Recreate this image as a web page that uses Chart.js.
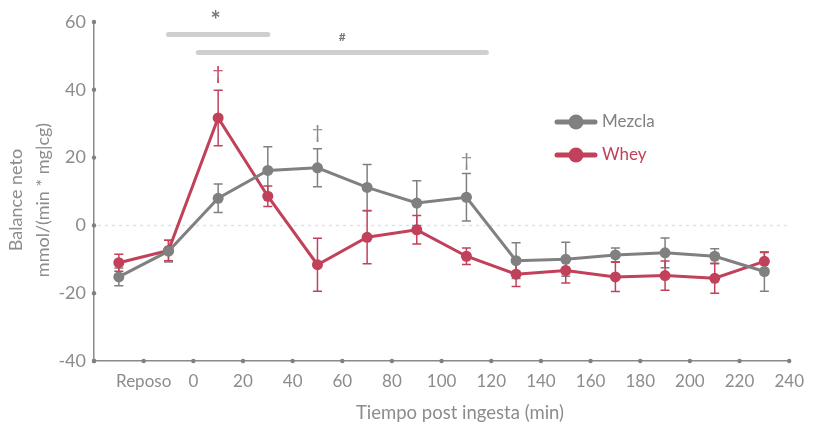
<!DOCTYPE html>
<html>
<head>
<meta charset="utf-8">
<script src="https://cdn.jsdelivr.net/npm/chart.js@4"></script>
<style>
  html, body { margin: 0; padding: 0; background: #fff; }
  #wrap { width: 814px; height: 427px; }
</style>
</head>
<body>
<div id="wrap"><canvas id="myChart"></canvas></div>
<script>
// time points (min), -30 = reposo
const times = [-30, -10, 10, 30, 50, 70, 90, 110, 130, 150, 170, 190, 210, 230];
const mezcla = [-15.2, -7.6, 8, 16.2, 17, 11.2, 6.6, 8.3, -10.4, -10, -8.7, -8.1, -9.1, -13.6];
const mezclaErr = [2.6, 3.2, 4.2, 7, 5.6, 6.8, 6.6, 7, 5.3, 5, 2, 4.4, 2.2, 5.8];
const whey = [-11, -7.4, 31.7, 8.6, -11.6, -3.5, -1.3, -9.1, -14.4, -13.3, -15.2, -14.8, -15.6, -10.6];
const wheyErr = [2.5, 3, 8.2, 3, 7.8, 7.8, 4.2, 2.4, 3.6, 3.7, 4.3, 4.3, 4.4, 2.6];

// significance bars [from, to, y] and their symbols
const sigBars = [[-10, 30, 56.3], [2, 118, 51]];
const sigMarks = [{ x: 9, y: 60.3, text: "*", size: 24 }, { x: 60, y: 55.5, text: "#", size: 12 }];
const daggers = [{ x: 10, y: 44.8, color: "#c1415b" }, { x: 50, y: 27.4, color: "#8a8a8a" }, { x: 110, y: 19.2, color: "#8a8a8a" }];

const yTitle = ["Balance neto", "mmol/(min * mg|cg)"];
const xTitle = "Tiempo post ingesta (min)";

const red = "#c1415b";
const grey = "#808080";
const txt = "#8c8c8c";
const fontFam = "Lato, 'Open Sans', sans-serif";

function pts(vals) {
    return times.map((t, i) => ({ x: t, y: vals[i] }));
}

const extras = {
    id: "extras",
    beforeDatasetsDraw(chart) {
        const { ctx, scales: { x, y } } = chart;
        // dotted zero line
        ctx.save();
        ctx.strokeStyle = "#e2e2e2";
        ctx.lineWidth = 1.5;
        ctx.setLineDash([3, 4]);
        ctx.beginPath();
        ctx.moveTo(x.left + 4, y.getPixelForValue(0));
        ctx.lineTo(x.right, y.getPixelForValue(0));
        ctx.stroke();
        ctx.restore();
        // error bars
        const sets = [[mezcla, mezclaErr, grey], [whey, wheyErr, red]];
        ctx.save();
        ctx.lineWidth = 1.5;
        sets.forEach(([vals, errs, col]) => {
            ctx.strokeStyle = col;
            times.forEach((t, i) => {
                const px = x.getPixelForValue(t);
                const top = y.getPixelForValue(vals[i] + errs[i]);
                const bot = y.getPixelForValue(vals[i] - errs[i]);
                ctx.beginPath();
                ctx.moveTo(px, top); ctx.lineTo(px, bot);
                ctx.moveTo(px - 4.5, top); ctx.lineTo(px + 4.5, top);
                ctx.moveTo(px - 4.5, bot); ctx.lineTo(px + 4.5, bot);
                ctx.stroke();
            });
        });
        ctx.restore();
    },
    afterDraw(chart) {
        const { ctx, scales: { x, y } } = chart;
        ctx.save();
        // axis dots
        ctx.fillStyle = "#808080";
        y.ticks.forEach(tk => {
            ctx.beginPath();
            ctx.arc(x.left, y.getPixelForValue(tk.value), 2.2, 0, Math.PI * 2);
            ctx.fill();
        });
        x.ticks.forEach(tk => {
            ctx.beginPath();
            ctx.arc(x.getPixelForValue(tk.value), y.bottom, 2.2, 0, Math.PI * 2);
            ctx.fill();
        });
        // axis titles
        ctx.fillStyle = txt;
        ctx.textAlign = "center";
        ctx.textBaseline = "middle";
        ctx.font = "18.5px " + fontFam;
        ctx.fillText(xTitle, 460, 413);
        ctx.save();
        ctx.translate(16, 200);
        ctx.rotate(-Math.PI / 2);
        ctx.font = "18px " + fontFam;
        ctx.fillText(yTitle[0], 0, 0);
        ctx.fillText(yTitle[1], 0, 27);
        ctx.restore();
        // significance bars
        ctx.strokeStyle = "#cfcfcf";
        ctx.lineWidth = 5;
        ctx.lineCap = "round";
        sigBars.forEach(([a, b, v]) => {
            ctx.beginPath();
            ctx.moveTo(x.getPixelForValue(a), y.getPixelForValue(v));
            ctx.lineTo(x.getPixelForValue(b), y.getPixelForValue(v));
            ctx.stroke();
        });
        ctx.fillStyle = "#777";
        sigMarks.forEach(m => {
            ctx.font = "bold " + m.size + "px " + fontFam;
            ctx.fillText(m.text, x.getPixelForValue(m.x), y.getPixelForValue(m.y));
        });
        ctx.font = "20px " + fontFam;
        daggers.forEach(d => {
            ctx.fillStyle = d.color;
            ctx.fillText("\u2020", x.getPixelForValue(d.x), y.getPixelForValue(d.y));
        });
        // legend
        const items = [["Mezcla", grey, 122], ["Whey", red, 155]];
        ctx.lineCap = "round";
        items.forEach(([label, col, ly]) => {
            ctx.strokeStyle = col;
            ctx.fillStyle = col;
            ctx.lineWidth = 5;
            ctx.beginPath();
            ctx.moveTo(557, ly); ctx.lineTo(595, ly);
            ctx.stroke();
            ctx.beginPath();
            ctx.arc(576, ly, 7.5, 0, Math.PI * 2);
            ctx.fill();
            ctx.textAlign = "left";
            ctx.font = "17px " + fontFam;
            ctx.fillText(label, 602, ly);
        });
        ctx.restore();
    }
};

const myChart = new Chart("myChart", {
    type: "line",
    data: {
        datasets: [
            {
                label: "Mezcla",
                data: pts(mezcla),
                borderColor: grey,
                backgroundColor: grey,
                borderWidth: 3,
                pointRadius: 5.5,
                pointBorderWidth: 0,
                fill: false
            },
            {
                label: "Whey",
                data: pts(whey),
                borderColor: red,
                backgroundColor: red,
                borderWidth: 3,
                pointRadius: 5.5,
                pointBorderWidth: 0,
                fill: false
            }
        ]
    },
    options: {
        responsive: true,
        maintainAspectRatio: false,
        animation: false,
        layout: { padding: { top: 22, right: 17, left: 0, bottom: 0 } },
        plugins: {
            legend: { display: false },
            tooltip: { enabled: false }
        },
        scales: {
            x: {
                type: "linear",
                min: -40,
                max: 240,
                afterFit: s => { s.height = 66; },
                afterBuildTicks: s => {
                    s.ticks = [];
                    for (let v = -40; v <= 240; v += 20) s.ticks.push({ value: v });
                },
                grid: { display: false, drawTicks: false },
                border: { color: "#8a8a8a", width: 1.5 },
                ticks: {
                    color: txt,
                    padding: 10,
                    maxRotation: 0,
                    autoSkip: false,
                    font: { family: fontFam, size: 17 },
                    callback: v => v === -20 ? "Reposo" : (v < 0 ? "" : v)
                }
            },
            y: {
                min: -40,
                max: 60,
                afterFit: s => { s.width = 94; },
                grid: { display: false, drawTicks: false },
                border: { color: "#8a8a8a", width: 1.5 },
                ticks: {
                    stepSize: 20,
                    color: txt,
                    padding: 8,
                    font: { family: fontFam, size: 18 }
                }
            }
        }
    },
    plugins: [extras]
});
</script>
</body>
</html>
